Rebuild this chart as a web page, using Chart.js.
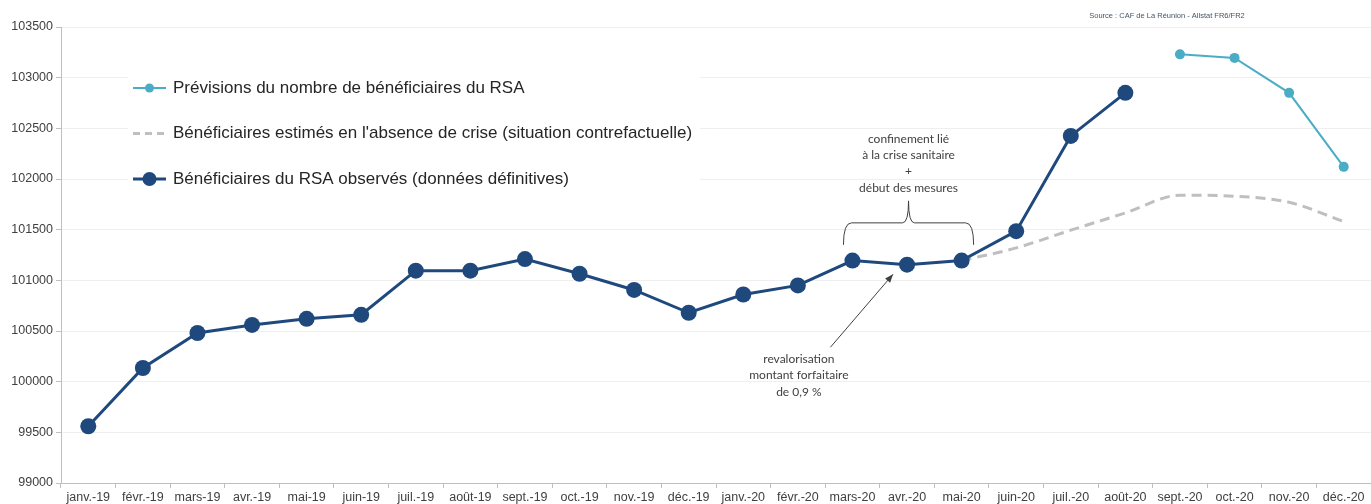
<!DOCTYPE html>
<html>
<head>
<meta charset="utf-8">
<script src="https://cdn.jsdelivr.net/npm/chart.js@4/dist/chart.umd.min.js"></script>
<style>
  html, body { margin: 0; padding: 0; background: #fff; overflow: hidden; }
  canvas { display: block; }
</style>
</head>
<body>
<canvas id="rsaChart" width="1371" height="504"></canvas>
<script>
const months = ["janv.-19", "févr.-19", "mars-19", "avr.-19", "mai-19", "juin-19", "juil.-19", "août-19",
  "sept.-19", "oct.-19", "nov.-19", "déc.-19", "janv.-20", "févr.-20", "mars-20", "avr.-20", "mai-20",
  "juin-20", "juil.-20", "août-20", "sept.-20", "oct.-20", "nov.-20", "déc.-20"];

// Bénéficiaires observés (données définitives)
const observed = [99560, 100135, 100480, 100560, 100620, 100660, 101095, 101095, 101210, 101065, 100905,
  100680, 100860, 100950, 101195, 101155, 101195, 101485, 102425, 102850, null, null, null, null];

// Bénéficiaires estimés en l'absence de crise
const counterfactual = [null, null, null, null, null, null, null, null, null, null, null, null, null, null,
  null, null, 101195, 101320, 101495, 101665, 101840, 101830, 101770, 101580];

// Prévisions
const forecast = [null, null, null, null, null, null, null, null, null, null, null, null, null, null,
  null, null, null, null, null, null, 103230, 103195, 102850, 102120];

const legendItems = [
  { label: "Prévisions du nombre de bénéficiaires du RSA", color: "#4bacc6", width: 2, dash: [], radius: 4.5 },
  { label: "Bénéficiaires estimés en l'absence de crise (situation contrefactuelle)", color: "#bfbfbf", width: 3, dash: [7, 5], radius: 0 },
  { label: "Bénéficiaires du RSA observés (données définitives)", color: "#1f497d", width: 3, dash: [], radius: 7 }
];

const sourceText = "Source : CAF de La Réunion - Allstat FR6/FR2";
const braceNote = ["confinement lié", "à la crise sanitaire", "+", "début des mesures"];
const arrowNote = ["revalorisation", "montant forfaitaire", "de 0,9 %"];

const overlay = {
  id: "overlay",
  afterDatasetsDraw(chart) {
    const ctx = chart.ctx;
    const x = chart.scales.x, y = chart.scales.y;
    ctx.save();

    // legend box inside the plot
    ctx.fillStyle = "#ffffff";
    ctx.fillRect(128, 66, 572, 128);
    legendItems.forEach((it, i) => {
      const cy = 88 + i * 45.5;
      ctx.strokeStyle = it.color;
      ctx.lineWidth = it.width;
      ctx.setLineDash(it.dash);
      ctx.beginPath();
      ctx.moveTo(133, cy);
      ctx.lineTo(166, cy);
      ctx.stroke();
      ctx.setLineDash([]);
      if (it.radius) {
        ctx.fillStyle = it.color;
        ctx.beginPath();
        ctx.arc(149.5, cy, it.radius, 0, Math.PI * 2);
        ctx.fill();
      }
      ctx.fillStyle = "#262626";
      ctx.font = "17px 'Liberation Sans', Arial, sans-serif";
      ctx.textBaseline = "middle";
      ctx.textAlign = "left";
      ctx.fillText(it.label, 173, cy);
    });

    // source
    ctx.fillStyle = "#44546a";
    ctx.font = "7.5px 'Liberation Sans', Arial, sans-serif";
    ctx.textAlign = "center";
    ctx.fillText(sourceText, 1167, 16);

    // brace over mars-20 .. mai-20
    const bl = x.getPixelForValue(14) - 9, br = x.getPixelForValue(16) + 12;
    const bm = (bl + br) / 2;
    const yEnd = y.getPixelForValue(101350), yBar = yEnd - 22, yTip = yBar - 22;
    ctx.strokeStyle = "#404040";
    ctx.lineWidth = 1;
    ctx.beginPath();
    ctx.moveTo(bl, yEnd);
    ctx.quadraticCurveTo(bl, yBar, bl + 8, yBar);
    ctx.lineTo(bm - 6, yBar);
    ctx.quadraticCurveTo(bm, yBar, bm, yTip);
    ctx.quadraticCurveTo(bm, yBar, bm + 6, yBar);
    ctx.lineTo(br - 8, yBar);
    ctx.quadraticCurveTo(br, yBar, br, yEnd);
    ctx.stroke();

    ctx.fillStyle = "#404040";
    ctx.font = "12px Lato, 'Open Sans', sans-serif";
    ctx.textAlign = "center";
    braceNote.forEach((t, i) => ctx.fillText(t, bm, yTip - 62 + i * 16.3));

    // arrow toward mars/avr-20
    const ax0 = x.getPixelForValue(14) - 22, ay0 = y.getPixelForValue(100340);
    const ax1 = x.getPixelForValue(15) - 14, ay1 = y.getPixelForValue(101060);
    ctx.beginPath();
    ctx.moveTo(ax0, ay0);
    ctx.lineTo(ax1, ay1);
    ctx.stroke();
    const ang = Math.atan2(ay1 - ay0, ax1 - ax0);
    ctx.beginPath();
    ctx.moveTo(ax1, ay1);
    ctx.lineTo(ax1 - 9 * Math.cos(ang - 0.38), ay1 - 9 * Math.sin(ang - 0.38));
    ctx.lineTo(ax1 - 9 * Math.cos(ang + 0.38), ay1 - 9 * Math.sin(ang + 0.38));
    ctx.closePath();
    ctx.fill();

    const tx = x.getPixelForValue(13) + 1;
    arrowNote.forEach((t, i) => ctx.fillText(t, tx, ay0 + 12 + i * 16.3));

    ctx.restore();
  }
};

new Chart(document.getElementById("rsaChart"), {
  type: "line",
  data: {
    labels: months,
    datasets: [
      {
        label: legendItems[2].label,
        data: observed,
        borderColor: "#1f497d",
        backgroundColor: "#1f497d",
        borderWidth: 3,
        pointRadius: 8,
        pointBorderWidth: 0,
        tension: 0,
        spanGaps: false
      },
      {
        label: legendItems[1].label,
        data: counterfactual,
        borderColor: "#bfbfbf",
        borderWidth: 3,
        borderDash: [10, 6],
        pointRadius: 0,
        cubicInterpolationMode: "monotone",
        tension: 0.3
      },
      {
        label: legendItems[0].label,
        data: forecast,
        borderColor: "#4bacc6",
        backgroundColor: "#4bacc6",
        borderWidth: 2,
        pointRadius: 5,
        pointBorderWidth: 0,
        tension: 0
      }
    ]
  },
  options: {
    responsive: false,
    animation: false,
    layout: { autoPadding: false, padding: { top: 27, right: -5, left: 0, bottom: 0 } },
    plugins: {
      legend: { display: false },
      tooltip: { enabled: false }
    },
    scales: {
      x: {
        offset: true,
        grid: {
          offset: true,
          drawOnChartArea: false,
          color: "#bfbfbf",
          tickLength: 5
        },
        border: { color: "#bfbfbf", width: 1 },
        ticks: {
          color: "#404040",
          font: { family: "'Liberation Sans', Arial, sans-serif", size: 12.5 },
          maxRotation: 0,
          autoSkip: false,
          padding: 2
        },
        afterFit(scale) {
          scale.height = 21;
          scale.paddingLeft = 0;
          scale.paddingRight = 0;
        }
      },
      y: {
        min: 99000,
        max: 103500,
        grid: {
          color: "#efefef",
          tickLength: 5,
          tickColor: "#bfbfbf"
        },
        border: { color: "#bfbfbf", width: 1 },
        ticks: {
          stepSize: 500,
          color: "#404040",
          font: { family: "'Liberation Sans', Arial, sans-serif", size: 12.5 },
          padding: 3,
          callback: v => String(v)
        },
        afterFit(scale) { scale.width = 61; }
      }
    }
  },
  plugins: [overlay]
});
</script>
</body>
</html>
